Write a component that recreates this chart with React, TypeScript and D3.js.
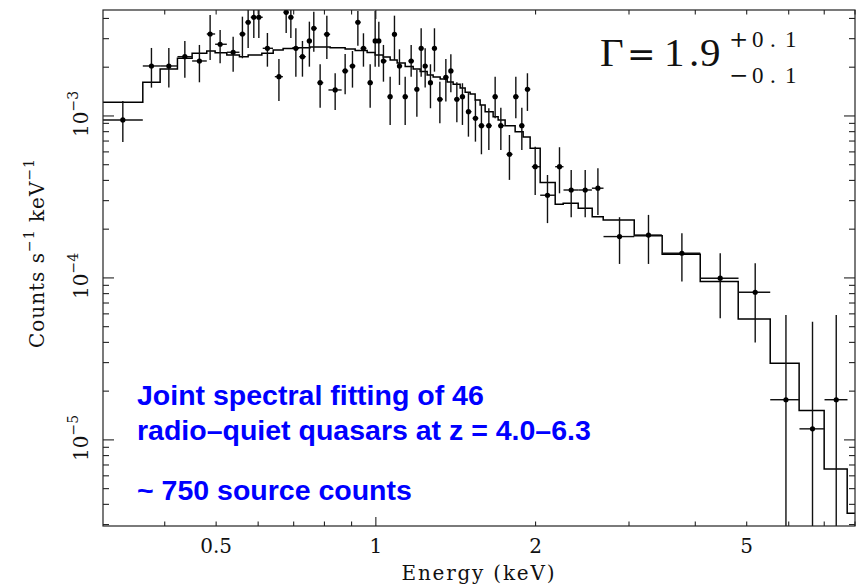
import React from "react";
import * as d3 from "d3";

// binned spectrum (keV, counts s^-1 keV^-1)
const energy = [
  0.3335, 0.3776, 0.4072, 0.4365, 0.465, 0.4871, 0.5087, 0.5383, 0.5604, 0.5745,
  0.5888, 0.6018, 0.6246, 0.6566, 0.6776, 0.6915, 0.7067, 0.7272, 0.7494, 0.7639,
  0.7852, 0.8084, 0.8381, 0.8752, 0.9035, 0.9249, 0.9476, 0.9756, 0.997, 1.013,
  1.0335, 1.064, 1.0841, 1.1079, 1.1357, 1.1656, 1.1948, 1.2173, 1.2386, 1.2674,
  1.2896, 1.3202, 1.355, 1.3847, 1.4212, 1.4561, 1.4945, 1.5406, 1.5812, 1.6329,
  1.6782, 1.7202, 1.7856, 1.8358, 1.8842, 1.9306, 1.9967, 2.1062, 2.2188, 2.3344,
  2.4807, 2.6213, 2.8792, 3.2647, 3.7743, 4.4571, 5.1879, 5.9284, 6.6528, 7.3742,
];
const energyLo = [
  0.3044, 0.3637, 0.3921, 0.4227, 0.4505, 0.4801, 0.4978, 0.5237, 0.5532, 0.568,
  0.581, 0.595, 0.612, 0.645, 0.67, 0.685, 0.699, 0.717, 0.741, 0.757,
  0.776, 0.798, 0.814, 0.864, 0.892, 0.915, 0.936, 0.965, 0.99, 1.005,
  1.022, 1.052, 1.074, 1.097, 1.124, 1.152, 1.183, 1.206, 1.228, 1.256,
  1.279, 1.305, 1.34, 1.372, 1.405, 1.44, 1.478, 1.522, 1.562, 1.612,
  1.66, 1.7, 1.763, 1.815, 1.862, 1.91, 1.968, 2.0405, 2.1778, 2.2577,
  2.4096, 2.5539, 2.6858, 3.0689, 3.46, 4.0869, 4.8255, 5.5373, 6.2868, 7.0084,
];
const energyHi = [
  0.3637, 0.3921, 0.4227, 0.4505, 0.4801, 0.4978, 0.5237, 0.5532, 0.568, 0.581,
  0.595, 0.612, 0.64, 0.668, 0.685, 0.699, 0.717, 0.738, 0.757, 0.774,
  0.796, 0.82, 0.862, 0.887, 0.915, 0.936, 0.96, 0.987, 1.005, 1.022,
  1.048, 1.074, 1.095, 1.121, 1.15, 1.18, 1.206, 1.228, 1.252, 1.278,
  1.301, 1.337, 1.37, 1.4, 1.438, 1.473, 1.515, 1.56, 1.602, 1.654,
  1.697, 1.748, 1.81, 1.858, 1.905, 1.955, 2.04, 2.1778, 2.2577, 2.4096,
  2.5539, 2.6858, 3.0689, 3.46, 4.0869, 4.8255, 5.5373, 6.2868, 7.0084, 7.7446,
];
const counts = [
  9.45e-4, 2.035e-3, 2.035e-3, 2.323e-3, 2.185e-3, 3.207e-3, 2.771e-3, 2.473e-3, 3.207e-3, 3.789e-3,
  4.067e-3, 4.067e-3, 2.617e-3, 1.748e-3, 4.366e-3, 4.067e-3, 2.617e-3, 2.323e-3, 2.904e-3, 3.478e-3,
  1.605e-3, 3.193e-3, 1.447e-3, 1.896e-3, 2.035e-3, 3.789e-3, 2.617e-3, 1.605e-3, 2.904e-3, 2.904e-3,
  2.185e-3, 1.315e-3, 3.193e-3, 2.035e-3, 1.315e-3, 2.185e-3, 1.462e-3, 2.617e-3, 2.035e-3, 1.605e-3,
  2.617e-3, 1.268e-3, 1.734e-3, 1.896e-3, 1.268e-3, 1.315e-3, 1.063e-3, 9.68e-4, 8.71e-4, 8.71e-4,
  1.315e-3, 8.71e-4, 5.8e-4, 1.315e-3, 8.71e-4, 1.462e-3, 4.86e-4, 3.24e-4, 4.86e-4, 3.49e-4,
  3.49e-4, 3.58e-4, 1.8e-4, 1.84e-4, 1.42e-4, 9.96e-5, 8.16e-5, 1.77e-5, 1.17e-5, 1.77e-5,
];
const countsLo = [
  6.91e-4, 1.496e-3, 1.496e-3, 1.724e-3, 1.614e-3, 2.216e-3, 2.115e-3, 1.877e-3, 2.271e-3, 2.629e-3,
  3.03e-3, 3.03e-3, 2.015e-3, 1.238e-3, 3.253e-3, 3.03e-3, 1.748e-3, 1.748e-3, 2.015e-3, 2.494e-3,
  1.125e-3, 2.248e-3, 1.089e-3, 1.361e-3, 1.496e-3, 2.716e-3, 2.015e-3, 1.125e-3, 2.015e-3, 2.015e-3,
  1.628e-3, 8.8e-4, 2.216e-3, 1.554e-3, 8.8e-4, 1.748e-3, 9.9e-4, 1.748e-3, 1.496e-3, 1.116e-3,
  1.877e-3, 9.01e-4, 1.226e-3, 1.4e-3, 9.14e-4, 8.8e-4, 7.45e-4, 6.94e-4, 5.8e-4, 6.17e-4,
  9.68e-4, 6.17e-4, 4.03e-4, 9.68e-4, 6.17e-4, 1.074e-3, 3.25e-4, 2.18e-4, 3.33e-4, 2.37e-4,
  2.37e-4, 2.45e-4, 1.22e-4, 1.22e-4, 9.49e-5, 5.64e-5, 3.99e-5, 1e-6, 1e-6, 1e-6,
];
const countsHi = [
  1.238e-3, 2.629e-3, 2.629e-3, 2.904e-3, 2.744e-3, 4.202e-3, 3.395e-3, 3.086e-3, 4.102e-3, 4.8e-3,
  4.8e-3, 4.8e-3, 3.253e-3, 2.248e-3, 4.8e-3, 4.8e-3, 3.478e-3, 2.904e-3, 3.821e-3, 4.404e-3,
  2.085e-3, 4.16e-3, 1.835e-3, 2.414e-3, 2.518e-3, 4.446e-3, 3.239e-3, 2.085e-3, 4.446e-3, 3.821e-3,
  2.744e-3, 1.748e-3, 4.16e-3, 2.58e-3, 1.748e-3, 2.744e-3, 1.923e-3, 3.478e-3, 2.617e-3, 2.085e-3,
  3.478e-3, 1.628e-3, 2.248e-3, 2.404e-3, 1.614e-3, 1.592e-3, 1.4e-3, 1.255e-3, 1.169e-3, 1.116e-3,
  1.748e-3, 1.125e-3, 7.63e-4, 1.748e-3, 1.125e-3, 1.835e-3, 6.46e-4, 4.32e-4, 6.41e-4, 4.64e-4,
  4.64e-4, 4.76e-4, 2.37e-4, 2.45e-4, 1.89e-4, 1.42e-4, 1.232e-4, 5.91e-5, 5.37e-5, 5.91e-5,
];

// folded power-law model, step per channel group
const modelEdges = [
  0.306, 0.3637, 0.3921, 0.4227, 0.4505, 0.4801, 0.4978, 0.5237, 0.5532, 0.5745,
  0.6097, 0.6405, 0.6687, 0.6984, 0.7518, 0.8201, 0.8752, 0.9141, 0.9629, 0.997,
  1.0322, 1.064, 1.0968, 1.1357, 1.1757, 1.212, 1.2494, 1.2822, 1.3219, 1.3627,
  1.3986, 1.4416, 1.4733, 1.5056, 1.5386, 1.5723, 1.6068, 1.6636, 1.7001, 1.7525,
  1.8303, 1.8949, 1.9534, 2.0405, 2.1778, 2.2547, 2.4065, 2.5573, 2.6823, 3.0689,
  3.4646, 4.0869, 4.8192, 5.5373, 6.2774, 6.9978, 7.7332, 8.007,
];
const modelValues = [
  1.215e-3, 1.614e-3, 1.95e-3, 2.271e-3, 2.438e-3, 2.518e-3, 2.459e-3, 2.38e-3, 2.323e-3, 2.38e-3,
  2.438e-3, 2.555e-3, 2.61e-3, 2.64e-3, 2.667e-3, 2.64e-3, 2.592e-3, 2.537e-3, 2.466e-3, 2.38e-3,
  2.313e-3, 2.216e-3, 2.124e-3, 2.021e-3, 1.95e-3, 1.882e-3, 1.791e-3, 1.741e-3, 1.692e-3, 1.621e-3,
  1.569e-3, 1.489e-3, 1.4e-3, 1.367e-3, 1.255e-3, 1.169e-3, 1.063e-3, 9.9e-4, 9.45e-4, 8.71e-4,
  8.0e-4, 7.42e-4, 6.32e-4, 3.88e-4, 2.85e-4, 2.89e-4, 2.69e-4, 2.39e-4, 2.28e-4, 1.82e-4,
  1.4e-4, 9.49e-5, 5.58e-5, 2.97e-5, 1.52e-5, 6.62e-6, 3.53e-6,
];

const xTickLabels = [0.5, 1, 2, 5];
const yTickExponents = [-3, -4, -5];

const serif = "'DejaVu Serif', serif";
const thinSerif = "'Liberation Serif', serif";
const sans = "'Liberation Sans', Arial, sans-serif";

const isDecade = (v: number) =>
  Math.abs(Math.log10(v) - Math.round(Math.log10(v))) < 1e-6;

export default function App() {
  const left = 103, right = 855, top = 10, bottom = 526;
  const x = d3.scaleLog().domain([0.306, 8.0]).range([left, right]);
  const y = d3.scaleLog().domain([2.94e-6, 4.51e-3]).range([bottom, top]);

  const modelPts: [number, number][] = modelValues.map((v, i) => [modelEdges[i], v]);
  modelPts.push([modelEdges[modelEdges.length - 1], modelValues[modelValues.length - 1]]);
  const modelLine = d3
    .line<[number, number]>()
    .x((d) => x(d[0]))
    .y((d) => y(d[1]))
    .curve(d3.curveStepAfter);

  const xt = x.ticks();
  const yt = y.ticks();

  return (
    <svg width={863} height={587} style={{ position: "absolute", left: 0, top: 0, background: "#fff" }}>
      <defs>
        <clipPath id="plot">
          <rect x={left} y={top} width={right - left} height={bottom - top} />
        </clipPath>
      </defs>

      <g clipPath="url(#plot)">
        <path d={modelLine(modelPts) || ""} fill="none" stroke="#000" strokeWidth={1.5} />
        {energy.map((e, i) => (
          <g key={i} stroke="#111" strokeWidth={1.4}>
            <line x1={x(e)} x2={x(e)} y1={y(countsLo[i])} y2={y(countsHi[i])} />
            <line x1={x(energyLo[i])} x2={x(energyHi[i])} y1={y(counts[i])} y2={y(counts[i])} />
            <circle cx={x(e)} cy={y(counts[i])} r={2.6} fill="#000" stroke="none" />
          </g>
        ))}
      </g>

      {/* frame + inward ticks on all four sides */}
      <rect x={left} y={top} width={right - left} height={bottom - top} fill="none" stroke="#222" strokeWidth={1.2} />
      <g stroke="#222" strokeWidth={1.1}>
        {xt.map((t, i) => {
          const len = isDecade(t) ? 9 : 4.5;
          return (
            <g key={"x" + i}>
              <line x1={x(t)} x2={x(t)} y1={bottom} y2={bottom - len} />
              <line x1={x(t)} x2={x(t)} y1={top} y2={top + len} />
            </g>
          );
        })}
        {yt.map((t, i) => {
          const len = isDecade(t) ? 11 : 6;
          return (
            <g key={"y" + i}>
              <line x1={left} x2={left + len} y1={y(t)} y2={y(t)} />
              <line x1={right} x2={right - len} y1={y(t)} y2={y(t)} />
            </g>
          );
        })}
      </g>

      <g fontFamily={serif} fontSize={20} fill="#111">
        {xTickLabels.map((t) => (
          <text key={t} x={x(t)} y={553} textAnchor="middle">
            {t}
          </text>
        ))}
        <text x={478} y={580} textAnchor="middle" textLength={153} lengthAdjust="spacing">
          Energy (keV)
        </text>
        {yTickExponents.map((e) => (
          <text key={e} transform={`translate(88,${y(Math.pow(10, e)) - 2}) rotate(-90)`} textAnchor="middle">
            10
            <tspan dy={-10} fontSize={14}>
              {"\u2212" + Math.abs(e)}
            </tspan>
          </text>
        ))}
        <text transform="translate(44,253) rotate(-90)" textAnchor="middle" letterSpacing={1}>
          Counts s
          <tspan dy={-10} fontSize={14}>{"\u22121"}</tspan>
          <tspan dy={10}> keV</tspan>
          <tspan dy={-10} fontSize={14}>{"\u22121"}</tspan>
        </text>
      </g>

      {/* photon index label, glyphs placed like the PGPLOT original */}
      <g fontFamily={thinSerif} fill="#111">
        <text y={66} fontSize={41}>
          <tspan x={600}>Γ</tspan>
          <tspan x={627} fontFamily={serif} fontSize={34}>=</tspan>
          <tspan x={664}>1</tspan>
          <tspan x={689}>.</tspan>
          <tspan x={700}>9</tspan>
        </text>
        <text y={47} fontSize={23}>
          <tspan x={729} fontFamily={serif}>+</tspan>
          <tspan x={752}>0</tspan>
          <tspan x={770}>.</tspan>
          <tspan x={785}>1</tspan>
        </text>
        <text y={83} fontSize={23}>
          <tspan x={729} fontFamily={serif}>{"\u2212"}</tspan>
          <tspan x={752}>0</tspan>
          <tspan x={770}>.</tspan>
          <tspan x={785}>1</tspan>
        </text>
      </g>

      <g fontFamily={sans} fontWeight="bold" fontSize={28.5} fill="#0000ff">
        <text x={137} y={405}>Joint spectral fitting of 46</text>
        <text x={137} y={440}>radio–quiet quasars at z = 4.0–6.3</text>
        <text x={137} y={500}>~ 750 source counts</text>
      </g>
    </svg>
  );
}
